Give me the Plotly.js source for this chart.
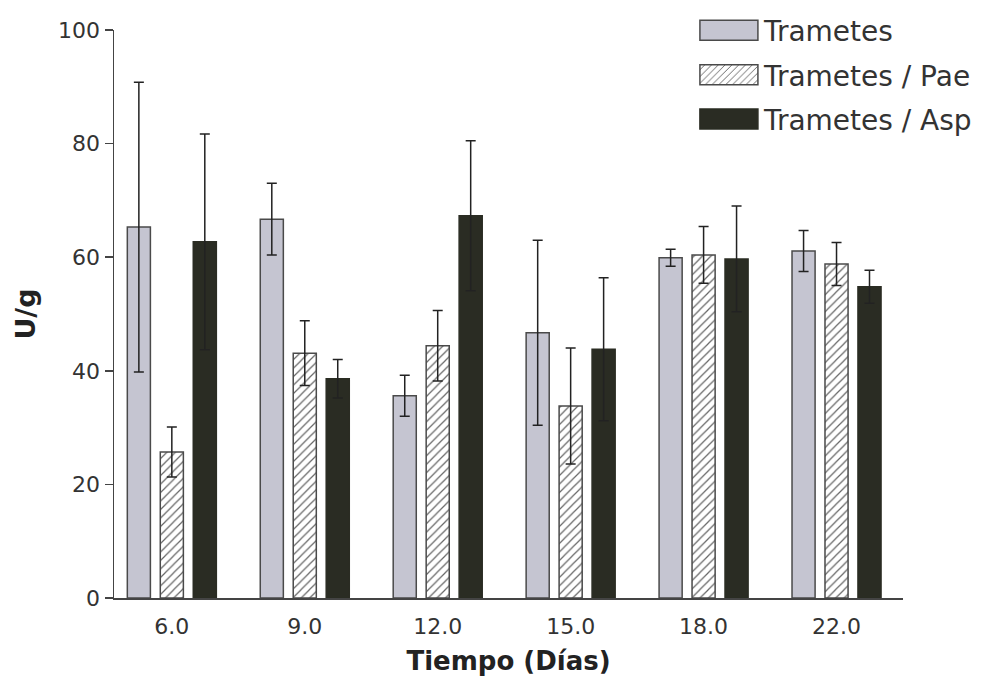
<!DOCTYPE html>
<html>
<head>
<meta charset="utf-8">
<script src="https://cdn.plot.ly/plotly-3.0.1.min.js"></script>
<style>html,body{margin:0;padding:0;background:#fff;}#chart{width:983px;height:679px;}</style>
</head>
<body>
<div id="chart"></div>
<script>
const categories = ["6.0", "9.0", "12.0", "15.0", "18.0", "22.0"];
const seriesNames = ["Trametes", "Trametes / Pae", "Trametes / Asp"];
const trametes = [65.3, 66.7, 35.6, 46.7, 59.9, 61.1];
const trametesErr = [25.5, 6.3, 3.6, 16.3, 1.5, 3.6];
const pae = [25.7, 43.1, 44.4, 33.8, 60.4, 58.8];
const paeErr = [4.4, 5.7, 6.2, 10.2, 5.0, 3.8];
const asp = [62.7, 38.6, 67.3, 43.8, 59.7, 54.8];
const aspErr = [19.0, 3.4, 13.2, 12.6, 9.3, 2.9];
const yTicks = [0, 20, 40, 60, 80, 100];

const FONT = '"DejaVu Sans", "Liberation Sans", Arial, sans-serif';
const errStyle = {type: 'data', visible: true, color: '#222', thickness: 1.5, width: 5};

const traces = [
  {type: 'bar', name: seriesNames[0], x: categories, y: trametes, legendgroup: 'a',
   error_y: Object.assign({array: trametesErr}, errStyle),
   marker: {color: '#c5c5d1', line: {color: '#4a4a4a', width: 1.5}}},
  {type: 'bar', name: seriesNames[1], x: categories, y: pae, legendgroup: 'b',
   error_y: Object.assign({array: paeErr}, errStyle),
   marker: {color: '#ffffff', line: {color: '#4a4a4a', width: 1.5},
            pattern: {shape: '/', fgcolor: '#666', bgcolor: '#ffffff', size: 6, solidity: 0.2}}},
  {type: 'bar', name: seriesNames[2], x: categories, y: asp, legendgroup: 'c',
   error_y: Object.assign({array: aspErr}, errStyle),
   marker: {color: '#2a2c23', line: {color: '#2a2c23', width: 1.5}}}
];

const layout = {
  width: 983, height: 679,
  margin: {l: 114, r: 80, t: 30, b: 81, autoexpand: false},
  paper_bgcolor: '#fff', plot_bgcolor: '#fff',
  font: {family: FONT, color: '#333', size: 22},
  barmode: 'group', bargap: 0.256, bargroupgap: 0.3,
  showlegend: true,
  legend: {x: 0.735, y: 1.043, xanchor: 'left', yanchor: 'top', bgcolor: 'rgba(0,0,0,0)',
           font: {family: FONT, size: 28, color: '#333'}, traceorder: 'grouped', tracegroupgap: 5, itemwidth: 60},
  xaxis: {type: 'category', range: [-0.435, 5.5], showline: true, linecolor: '#444', linewidth: 1.5,
          ticks: '', showgrid: false, zeroline: false, tickfont: {size: 22, color: '#333'},
          ticklabelstandoff: 8,
          title: {text: '<b>Tiempo (Días)</b>', font: {size: 26, color: '#222'}, standoff: 14}},
  yaxis: {range: [0, 100], tickvals: yTicks, showline: true, linecolor: '#444', linewidth: 1.5,
          ticks: 'outside', ticklen: 8, tickwidth: 1.5, tickcolor: '#444', showgrid: false, zeroline: false,
          tickfont: {size: 22, color: '#333'},
          title: {text: '<b>U/g</b>', font: {size: 27, color: '#222'}, standoff: 14}}
};

Plotly.newPlot('chart', traces, layout, {displayModeBar: false, staticPlot: true}).then(function (gd) {
  const pts = gd.querySelectorAll('.legend .legendpoints path');
  pts.forEach(function (p) { p.setAttribute('d', 'M-29,10H29V-10H-29Z'); });
});
</script>
</body>
</html>
